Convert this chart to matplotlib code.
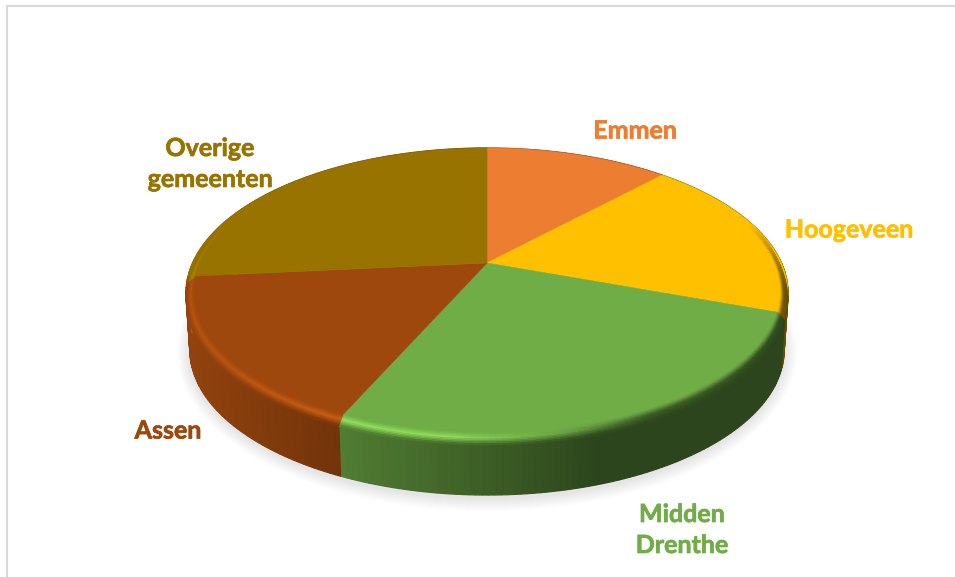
import numpy as np
import matplotlib
matplotlib.use("Agg")
import matplotlib.pyplot as plt
import matplotlib.patheffects as pe
from matplotlib.collections import PolyCollection
from matplotlib.patches import Polygon

categories = ["Emmen", "Hoogeveen", "Midden\nDrenthe", "Assen", "Overige\ngemeenten"]
values = [12, 18.5, 26.2, 16.8, 26.5]
colors = ["#ED7D31", "#FFC000", "#70AD47", "#9E480E", "#997300"]
label_xy = [(635, 131), (849, 230), (682, 530), (168, 431), (210, 164)]

CX, CY = 487.0, 263.0      # projected pie centre
R, A, C = 294.5, 138.8, 0.207   # perspective of the disc
DROP, SHRINK = 57.0, 0.987      # thickness of the disc

fig = plt.figure(figsize=(9.55, 5.77), dpi=100, facecolor="white")
ax = fig.add_axes([0, 0, 1, 1])
ax.set_xlim(0, 955)
ax.set_ylim(577, 0)
ax.axis("off")

# chart frame
ax.plot([6.5, 6.5, 955], [577, 5.5, 5.5], color="#D9D9D9", lw=1.5, zorder=1)


def project(theta, r=1.0):
    u, v = r * np.sin(theta), r * np.cos(theta)
    w = 1 + C * v
    return CX + R * u / w, CY - A * v / w


def rgb(c):
    return np.array(matplotlib.colors.to_rgb(c))


def side_shade(x):
    return np.interp(x, [190, 340, 600, 790], [0.92, 0.72, 0.40, 0.40])


def rim_shade(x):
    return np.interp(x, [184, 340, 450, 560, 650, 790],
                     [1.16, 1.30, 1.28, 0.95, 0.55, 0.45])


def slice_angles(i):
    n = max(int((edges[i + 1] - edges[i]) / np.radians(1.0)), 2)
    return np.linspace(edges[i], edges[i + 1], n)


# soft shadow under the disc
for k in np.arange(13, 0, -1.0):
    t = np.linspace(0, 2 * np.pi, 240)
    ax.add_patch(Polygon(np.c_[487 + (297 + k) * np.cos(t), 352 + (146 + k) * np.sin(t)],
                         closed=True, fc="#808080", ec="none", alpha=0.016, zorder=2))

edges = np.cumsum([0] + values) / np.sum(values) * 2 * np.pi

# outer wall: shaded strips drawn in angular order, edges overlapping the seams
for i, base in enumerate(colors):
    quads, fcs = [], []
    ts = slice_angles(i)
    for t0, t1 in zip(ts[:-1], ts[1:]):
        x0, y0 = project(t0)
        x1, y1 = project(t1)
        quads.append([(x0, y0), (x1, y1),
                      (CX + (x1 - CX) * SHRINK, y1 + DROP),
                      (CX + (x0 - CX) * SHRINK, y0 + DROP)])
        fcs.append(np.clip(rgb(base) * side_shade((x0 + x1) / 2), 0, 1))
    ax.add_collection(PolyCollection(quads, facecolors=fcs, edgecolors=fcs,
                                     linewidths=0.9, joinstyle="bevel", zorder=3))

# top faces
for i, base in enumerate(colors):
    ts = np.linspace(edges[i], edges[i + 1], 200)
    xs, ys = project(ts)
    ax.add_patch(Polygon(np.r_[[[CX, CY]], np.c_[xs, ys]], closed=True,
                         fc=base, ec=base, lw=0.4, zorder=4))

# bevel along the rim (front half) and a dark edge at the far right
steps = np.linspace(0, 1, 9)
for i, base in enumerate(colors):
    b = rgb(base)
    ts = slice_angles(i)
    quads, fcs = [], []
    for t0, t1 in zip(ts[:-1], ts[1:]):
        tm = (t0 + t1) / 2
        front = np.clip((0.30 - np.cos(tm)) / 0.45, 0, 1)
        xm = project(tm)[0]
        if front == 0 and xm < 755:
            continue
        for s0, s1 in zip(steps[:-1], steps[1:]):
            pts = []
            for t, s in ((t0, s0), (t1, s0), (t1, s1), (t0, s1)):
                x, y = project(t, 1 - 0.024 * (1 - s))
                pts.append((x, y + 7 * s * front))
            sm = (s0 + s1) / 2
            mid = b * rim_shade(xm)
            wall = b * side_shade(xm)
            if sm < 0.45:
                c = b + (mid - b) * (sm / 0.45)
            else:
                c = mid + (wall - mid) * ((sm - 0.45) / 0.55)
            if front == 0:
                c = b * (1 - 0.55 * max(sm - 0.5, 0) / 0.5)
            else:
                c = b * (1 - front) + c * front
            quads.append(pts)
            fcs.append(np.clip(c, 0, 1))
    if quads:
        ax.add_collection(PolyCollection(quads, facecolors=fcs, edgecolors=fcs,
                                         linewidths=0.5, zorder=5))

# labels
for name, col, (x, y) in zip(categories, colors, label_xy):
    ax.text(x, y, name, color=col, family="Lato", weight="bold", fontsize=18,
            ha="center", va="center", linespacing=1.42, zorder=6,
            path_effects=[pe.withStroke(linewidth=0.5, foreground=col)])

fig.savefig("out.png", dpi=100, facecolor="white")
